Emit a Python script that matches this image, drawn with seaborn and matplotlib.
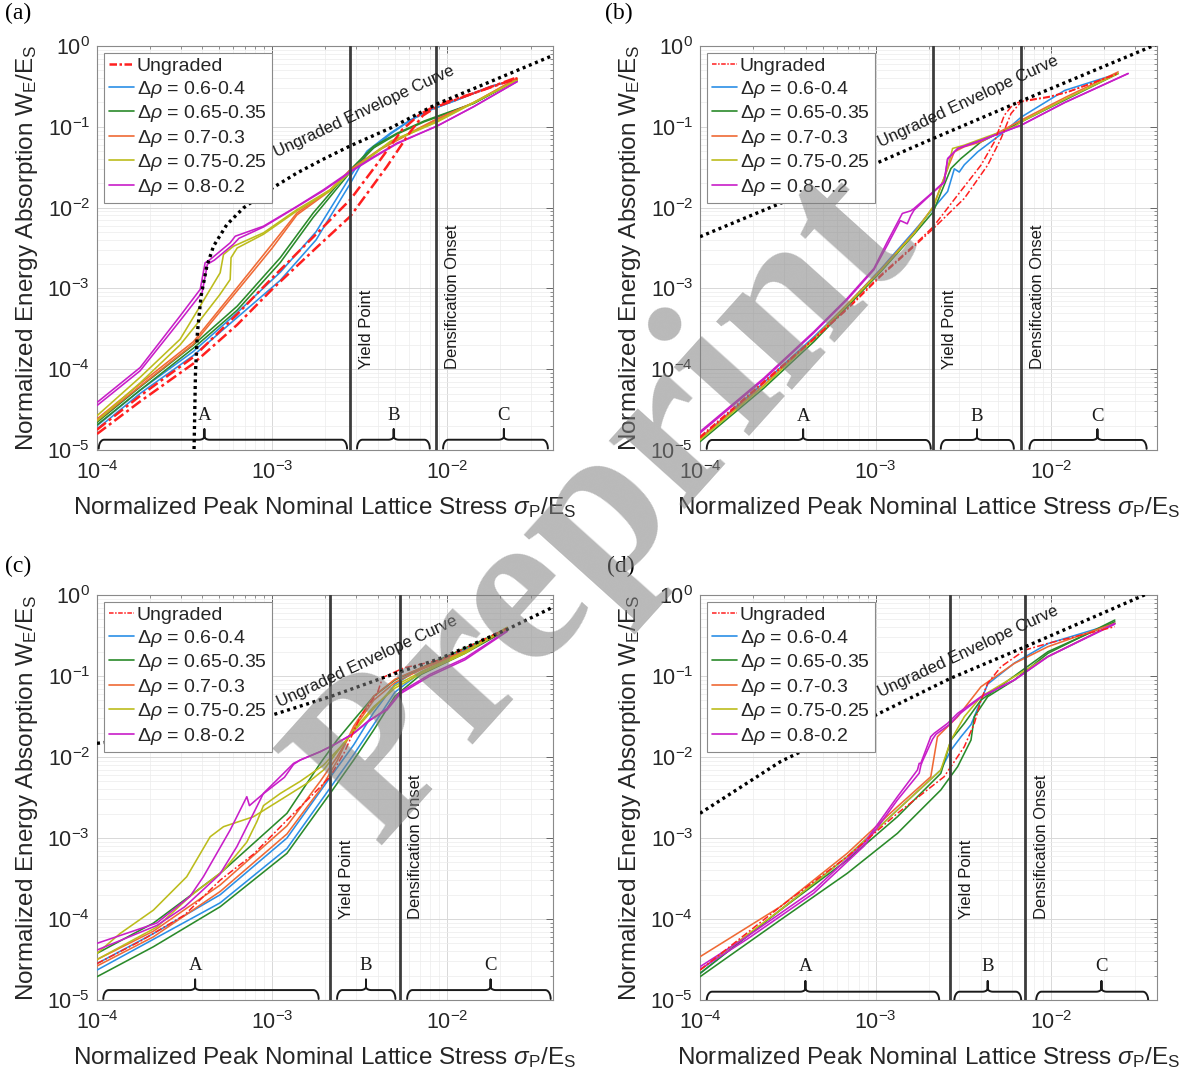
import numpy as np
import pandas as pd
import matplotlib
matplotlib.use("Agg")
import matplotlib.pyplot as plt
import seaborn as sns
from matplotlib.lines import Line2D
from matplotlib.ticker import LogLocator, NullFormatter

# ---------------------------------------------------------------- data
# every curve is stored as (log10 x, log10 y) pairs
SERIES = ["Ungraded", "0.6-0.4", "0.65-0.35", "0.7-0.3", "0.75-0.25", "0.8-0.2"]
COLORS = ["#ff1f1f", "#2b8fe6", "#2a8a2a", "#ef6a35", "#bcbc1c", "#c81ec8"]

# ---- panel (a)
A_UNG = [([-4.0, -3.754, -3.45, -3.2, -3.0, -2.75, -2.554, -2.383, -2.259, -2.16, -2.059, -1.85, -1.602],
          [-4.749, -4.33, -3.85, -3.32, -2.87, -2.33, -1.90, -1.407, -1.037, -0.85, -0.728, -0.584, -0.387]),
         ([-4.0, -3.754, -3.45, -3.2, -3.0, -2.75, -2.554, -2.345, -2.211, -2.14, -2.059, -1.85, -1.602],
          [-4.802, -4.40, -3.93, -3.45, -3.01, -2.50, -2.107, -1.49, -1.058, -0.86, -0.749, -0.584, -0.399])]
A_BLUE = [([-4.0, -3.754, -3.45, -3.2, -2.954, -2.75, -2.554, -2.459, -2.326, -2.211, -2.097, -1.945, -1.754, -1.621],
           [-4.70, -4.26, -3.78, -3.30, -2.80, -2.30, -1.613, -1.30, -1.078, -0.914, -0.79, -0.667, -0.502, -0.42]),
          ([-4.0, -3.754, -3.45, -3.2, -2.954, -2.75, -2.554, -2.459, -2.326, -2.211, -2.097, -1.945, -1.754, -1.621],
           [-4.74, -4.30, -3.83, -3.36, -2.90, -2.40, -1.70, -1.33, -1.09, -0.92, -0.79, -0.667, -0.50, -0.42])]
A_GREEN = [([-4.0, -3.754, -3.45, -3.2, -2.954, -2.766, -2.554, -2.421, -2.288, -2.135, -2.059, -1.85, -1.602],
            [-4.658, -4.22, -3.70, -3.22, -2.62, -2.066, -1.53, -1.24, -1.08, -0.93, -0.87, -0.708, -0.42]),
           ([-4.0, -3.754, -3.45, -3.2, -2.954, -2.766, -2.554, -2.421, -2.288, -2.135, -2.059, -1.85, -1.602],
            [-4.69, -4.26, -3.74, -3.27, -2.68, -2.12, -1.56, -1.26, -1.09, -0.94, -0.88, -0.71, -0.42])]
A_ORANGE = [([-4.0, -3.754, -3.45, -3.2, -3.0, -2.859, -2.669, -2.554, -2.383, -2.211, -2.059, -1.85, -1.602],
             [-4.617, -4.18, -3.66, -2.99, -2.45, -2.066, -1.778, -1.53, -1.27, -1.07, -0.90, -0.70, -0.40]),
            ([-4.0, -3.754, -3.45, -3.2, -3.0, -2.859, -2.669, -2.554, -2.383, -2.211, -2.059, -1.85, -1.602],
             [-4.64, -4.21, -3.69, -3.03, -2.50, -2.09, -1.79, -1.54, -1.28, -1.08, -0.91, -0.70, -0.40])]
A_YELLOW = [([-4.0, -3.754, -3.526, -3.411, -3.297, -3.278, -3.221, -3.05, -2.859, -2.669, -2.554, -2.326, -2.059, -1.602],
             [-4.576, -4.10, -3.63, -3.218, -2.806, -2.58, -2.478, -2.312, -2.025, -1.778, -1.55, -1.18, -0.93, -0.42]),
            ([-4.0, -3.754, -3.526, -3.4, -3.3, -3.24, -3.235, -3.2, -3.05, -2.859, -2.669, -2.554, -2.326, -2.059, -1.602],
             [-4.638, -4.17, -3.70, -3.36, -3.08, -2.89, -2.62, -2.50, -2.33, -2.04, -1.79, -1.56, -1.19, -0.94, -0.42])]
A_PURPLE = [([-4.0, -3.754, -3.526, -3.411, -3.383, -3.354, -3.24, -3.211, -3.05, -2.859, -2.707, -2.554, -2.421, -2.288, -2.154, -2.059, -1.85, -1.602],
             [-4.412, -3.98, -3.342, -3.012, -2.683, -2.642, -2.436, -2.354, -2.23, -1.984, -1.778, -1.55, -1.37, -1.201, -1.078, -0.99, -0.75, -0.44]),
            ([-4.0, -3.754, -3.526, -3.40, -3.37, -3.33, -3.22, -3.19, -3.05, -2.859, -2.707, -2.554, -2.421, -2.288, -2.154, -2.059, -1.85, -1.602],
             [-4.45, -4.02, -3.40, -3.05, -2.70, -2.65, -2.45, -2.38, -2.24, -1.99, -1.79, -1.56, -1.38, -1.21, -1.08, -0.99, -0.75, -0.44])]
A_ENV = ([-3.446, -3.438, -3.427, -3.406, -3.373, -3.335, -3.259, -3.164, -3.030, -2.859, -2.707, -2.554, -2.326, -2.059, -1.754, -1.392],
         [-4.988, -4.041, -3.547, -3.095, -2.724, -2.477, -2.21, -2.004, -1.798, -1.572, -1.399, -1.235, -1.016, -0.716, -0.44, -0.111])
A_VLINES = [2.79e-3, 8.6e-3]

# ---- panel (b)
B_UNG = [([-4.0, -3.638, -3.352, -3.162, -2.971, -2.781, -2.672, -2.533, -2.4, -2.324, -2.267, -2.221, -2.171, -2.019, -1.905, -1.619],
          [-4.835, -4.155, -3.619, -3.247, -2.835, -2.464, -2.237, -1.845, -1.474, -1.186, -0.856, -0.732, -0.682, -0.629, -0.567, -0.34]),
         ([-4.0, -3.638, -3.352, -3.162, -2.971, -2.781, -2.672, -2.495, -2.362, -2.286, -2.229, -2.171, -2.019, -1.905, -1.619],
          [-4.85, -4.17, -3.63, -3.26, -2.85, -2.48, -2.26, -1.886, -1.474, -1.144, -0.835, -0.69, -0.635, -0.57, -0.34])]
B_BLUE = [([-4.0, -3.638, -3.352, -3.162, -2.971, -2.781, -2.672, -2.59, -2.552, -2.524, -2.495, -2.419, -2.267, -2.171, -1.924, -1.619],
           [-4.856, -4.17, -3.60, -3.20, -2.76, -2.29, -2.01, -1.80, -1.52, -1.56, -1.47, -1.31, -1.06, -0.88, -0.55, -0.34])]
B_GREEN = [([-4.0, -3.638, -3.352, -2.971, -2.781, -2.672, -2.61, -2.571, -2.514, -2.4, -2.171, -1.924, -1.619],
            [-4.897, -4.237, -3.66, -2.794, -2.33, -2.052, -1.722, -1.515, -1.392, -1.186, -0.938, -0.67, -0.34])]
B_ORANGE = [([-4.0, -3.638, -3.352, -2.971, -2.781, -2.672, -2.59, -2.552, -2.495, -2.4, -2.171, -1.924, -1.619],
             [-4.856, -4.20, -3.62, -2.77, -2.31, -1.99, -1.515, -1.309, -1.247, -1.186, -0.918, -0.64, -0.32])]
B_YELLOW = [([-4.0, -3.638, -3.352, -2.971, -2.781, -2.672, -2.59, -2.562, -2.495, -2.21, -2.171, -1.924, -1.619],
             [-4.876, -4.21, -3.63, -2.78, -2.32, -1.99, -1.515, -1.268, -1.227, -1.0, -0.938, -0.66, -0.34])]
B_PURPLE = [([-4.0, -3.638, -3.352, -3.162, -3.01, -2.933, -2.848, -2.80, -2.781, -2.672, -2.61, -2.59, -2.533, -2.4, -2.171, -1.924, -1.562],
             [-4.773, -4.113, -3.536, -3.124, -2.753, -2.42, -2.072, -2.04, -2.01, -1.804, -1.68, -1.392, -1.268, -1.165, -0.979, -0.70, -0.34]),
            ([-4.0, -3.638, -3.352, -3.162, -3.01, -2.93, -2.86, -2.82, -2.80, -2.781, -2.672, -2.61, -2.59, -2.533, -2.4, -2.171, -1.924, -1.562],
             [-4.79, -4.13, -3.55, -3.14, -2.77, -2.45, -2.16, -2.20, -2.10, -2.03, -1.81, -1.69, -1.40, -1.27, -1.17, -0.98, -0.70, -0.34])]
B_ENV = ([-4.0, -3.048, -2.672, -2.171, -1.39], [-2.36, -1.50, -1.144, -0.68, 0.03])
B_VLINES = [2.13e-3, 6.75e-3]

# ---- panel (c)
C_UNG = [([-4.0, -3.75, -3.5, -3.297, -3.107, -2.916, -2.726, -2.669, -2.59, -2.497, -2.40, -2.37, -2.25, -2.04, -1.659],
          [-4.55, -4.27, -3.95, -3.52, -3.20, -2.78, -2.37, -2.24, -1.95, -1.50, -1.21, -1.02, -0.90, -0.80, -0.41])]
C_BLUE = [([-4.0, -3.678, -3.297, -2.916, -2.669, -2.535, -2.421, -2.3, -2.15, -1.9, -1.659],
           [-4.63, -4.25, -3.80, -3.13, -2.38, -1.97, -1.60, -1.20, -0.95, -0.70, -0.42]),
          ([-4.0, -3.678, -3.297, -2.916, -2.669, -2.535, -2.421, -2.3, -2.15, -1.9, -1.659],
           [-4.55, -4.18, -3.70, -3.00, -2.25, -1.85, -1.45, -1.10, -0.90, -0.68, -0.41])]
C_GREEN = [([-4.0, -3.678, -3.297, -2.916, -2.669, -2.535, -2.421, -2.3, -2.15, -1.9, -1.659],
            [-4.712, -4.342, -3.848, -3.189, -2.448, -2.037, -1.667, -1.25, -0.98, -0.72, -0.43]),
           ([-4.0, -3.678, -3.297, -2.916, -2.726, -2.63, -2.535, -2.42, -2.3, -2.1, -1.659],
            [-4.424, -4.05, -3.436, -2.695, -2.078, -1.79, -1.543, -1.25, -1.05, -0.85, -0.42])]
C_ORANGE = [([-4.0, -3.678, -3.297, -2.916, -2.726, -2.63, -2.535, -2.421, -2.3, -2.15, -1.9, -1.659],
             [-4.50, -4.15, -3.58, -2.85, -2.30, -2.0, -1.65, -1.30, -1.08, -0.92, -0.70, -0.42]),
            ([-4.0, -3.678, -3.297, -2.916, -2.726, -2.63, -2.535, -2.421, -2.3, -2.15, -1.9, -1.659],
             [-4.58, -4.22, -3.66, -2.95, -2.40, -2.05, -1.62, -1.25, -1.04, -0.90, -0.69, -0.42])]
C_YELLOW = [([-4.0, -3.869, -3.678, -3.488, -3.354, -3.278, -3.107, -2.954, -2.802, -2.707, -2.65, -2.535, -2.421, -2.3, -2.15, -1.9, -1.659],
             [-4.424, -4.18, -3.89, -3.478, -2.984, -2.86, -2.737, -2.531, -2.325, -2.16, -1.996, -1.667, -1.379, -1.15, -0.97, -0.72, -0.40]),
            ([-4.0, -3.659, -3.469, -3.278, -3.145, -3.088, -3.05, -2.954, -2.84, -2.707, -2.6, -2.5, -2.4, -2.3, -2.15, -1.9, -1.659],
             [-4.50, -4.10, -3.72, -3.40, -3.05, -2.80, -2.60, -2.45, -2.30, -2.10, -1.85, -1.60, -1.35, -1.12, -0.95, -0.70, -0.40])]
C_PURPLE = [([-4.0, -3.659, -3.469, -3.393, -3.24, -3.145, -3.13, -3.06, -2.93, -2.878, -2.84, -2.726, -2.65, -2.535, -2.45, -2.345, -2.27, -2.1, -1.9, -1.659],
             [-4.30, -4.05, -3.72, -3.478, -2.901, -2.49, -2.60, -2.47, -2.25, -2.09, -2.037, -1.934, -1.852, -1.708, -1.55, -1.42, -1.22, -1.0, -0.80, -0.45]),
            ([-4.0, -3.659, -3.5, -3.30, -3.202, -3.126, -3.05, -2.935, -2.878, -2.84, -2.726, -2.65, -2.535, -2.45, -2.345, -2.27, -2.1, -1.9, -1.659],
             [-4.383, -4.08, -3.85, -3.45, -3.107, -2.778, -2.448, -2.201, -2.078, -2.037, -1.934, -1.852, -1.708, -1.56, -1.40, -1.20, -0.98, -0.78, -0.44])]
C_ENV = ([-4.0, -3.659, -3.278, -3.03, -2.669, -2.326, -2.04, -1.659, -1.392],
         [-1.831, -1.749, -1.626, -1.502, -1.255, -0.99, -0.782, -0.424, -0.144])
C_VLINES = [2.14e-3, 5.35e-3]

# ---- panel (d)
D_UNG = [([-4.0, -3.543, -3.162, -2.876, -2.61, -2.495, -2.438, -2.4, -2.362, -2.286, -2.15, -2.019, -1.638],
          [-4.63, -3.848, -3.23, -2.695, -2.243, -1.872, -1.585, -1.296, -1.09, -0.885, -0.68, -0.597, -0.391])]
D_BLUE = [([-4.0, -3.543, -3.162, -2.876, -2.629, -2.571, -2.514, -2.457, -2.4, -2.362, -2.21, -2.019, -1.638],
           [-4.671, -3.889, -3.23, -2.654, -2.16, -1.914, -1.75, -1.60, -1.30, -1.10, -0.84, -0.60, -0.35])]
D_GREEN = [([-4.0, -3.543, -3.162, -2.876, -2.629, -2.533, -2.457, -2.438, -2.362, -2.21, -2.019, -1.638],
            [-4.712, -4.012, -3.436, -2.942, -2.407, -2.119, -1.79, -1.502, -1.255, -1.049, -0.72, -0.309]),
           ([-4.0, -3.543, -3.162, -2.876, -2.629, -2.571, -2.495, -2.4, -2.21, -2.019, -1.638],
            [-4.671, -3.889, -3.272, -2.737, -2.202, -1.790, -1.584, -1.296, -1.0, -0.70, -0.33])]
D_ORANGE = [([-4.0, -3.543, -3.162, -2.876, -2.686, -2.648, -2.61, -2.533, -2.4, -2.21, -2.019, -1.638],
             [-4.465, -3.848, -3.189, -2.613, -2.243, -1.749, -1.667, -1.502, -1.132, -0.844, -0.638, -0.35])]
D_YELLOW = [([-4.0, -3.543, -3.162, -2.876, -2.629, -2.571, -2.495, -2.4, -2.21, -2.019, -1.638],
             [-4.63, -3.889, -3.230, -2.654, -2.16, -1.79, -1.502, -1.255, -1.008, -0.761, -0.35])]
D_PURPLE = [([-4.0, -3.733, -3.352, -3.067, -2.876, -2.762, -2.752, -2.743, -2.686, -2.667, -2.59, -2.533, -2.4, -2.21, -2.019, -1.638],
             [-4.588, -4.218, -3.642, -3.066, -2.49, -2.16, -2.078, -2.078, -1.749, -1.708, -1.584, -1.461, -1.255, -1.049, -0.761, -0.35]),
            ([-4.0, -3.733, -3.352, -3.067, -2.876, -2.752, -2.742, -2.733, -2.676, -2.657, -2.58, -2.523, -2.4, -2.21, -2.019, -1.638],
             [-4.62, -4.25, -3.68, -3.10, -2.53, -2.20, -2.10, -2.05, -1.78, -1.72, -1.60, -1.47, -1.26, -1.05, -0.76, -0.36])]
D_ENV = ([-4.0, -3.543, -3.038, -2.575, -2.147, -1.457], [-2.695, -2.058, -1.523, -1.03, -0.638, 0.012])
D_VLINES = [2.66e-3, 7.1e-3]

# brace annotations: (log x start, log x end, log x centre) for A, B, C, and log y of brace / letter
A_BRACES = [(-3.99, -2.573, -3.387), (-2.516, -2.101, -2.307), (-2.025, -1.427, -1.678)]
B_BRACES = [(-3.962, -2.686, -3.413), (-2.629, -2.213, -2.423), (-2.124, -1.457, -1.737)]
C_BRACES = [(-3.964, -2.735, -3.44), (-2.63, -2.297, -2.465), (-2.23, -1.411, -1.754)]
D_BRACES = [(-3.962, -2.638, -3.40), (-2.552, -2.171, -2.362), (-2.086, -1.448, -1.714)]
BRACE_Y = [-4.873, -4.876, -4.877, -4.897]
LETTER_Y = [-4.576, -4.588, -4.568, -4.588]
ENV_TEXT_XY = [(-2.478, -0.81), (-2.476, -0.69), (-2.459, -0.823), (-2.476, -0.70)]

PANELS = [
    ("(a)", [A_UNG, A_BLUE, A_GREEN, A_ORANGE, A_YELLOW, A_PURPLE], A_ENV, A_VLINES, A_BRACES),
    ("(b)", [B_UNG, B_BLUE, B_GREEN, B_ORANGE, B_YELLOW, B_PURPLE], B_ENV, B_VLINES, B_BRACES),
    ("(c)", [C_UNG, C_BLUE, C_GREEN, C_ORANGE, C_YELLOW, C_PURPLE], C_ENV, C_VLINES, C_BRACES),
    ("(d)", [D_UNG, D_BLUE, D_GREEN, D_ORANGE, D_YELLOW, D_PURPLE], D_ENV, D_VLINES, D_BRACES),
]
AX_RECTS = [[0.0813, 0.5845, 0.3822, 0.3730],
            [0.5868, 0.5845, 0.3830, 0.3730],
            [0.0813, 0.0766, 0.3822, 0.3740],
            [0.5868, 0.0766, 0.3830, 0.3740]]
LABEL_POS = [(0.004, 0.997), (0.507, 0.997), (0.004, 0.487), (0.509, 0.487)]

# ---------------------------------------------------------------- style
sns.set_theme(style="white")
plt.rcParams["font.family"] = ["Liberation Sans", "DejaVu Sans"]
plt.rcParams["mathtext.fontset"] = "custom"
plt.rcParams["mathtext.rm"] = "Liberation Sans"
plt.rcParams["mathtext.it"] = "Liberation Sans:italic"
plt.rcParams["mathtext.bf"] = "Liberation Sans:bold"

LEG_LABELS = ["Ungraded"] + [r"$\Delta\rho$ = " + s for s in SERIES[1:]]


def to_frame(groups):
    rows = []
    for name, curves in zip(SERIES, groups):
        for ci, (lx, ly) in enumerate(curves):
            for k, (a, b) in enumerate(zip(lx, ly)):
                rows.append((name, f"{name}#{ci}", k, 10.0 ** a, 10.0 ** b))
    return pd.DataFrame(rows, columns=["series", "curve", "k", "x", "y"])


def brace(ax, x0, x1, xc, yb):
    ex, hy, hc, ty = 0.03, 0.11, 0.04, 0.13
    t = np.linspace(0, np.pi / 2, 10)
    xs, ys = [], []
    xs += list(x0 + ex - ex * np.cos(t)); ys += list(yb - hy + hy * np.sin(t))
    xs += list(xc - ex + ex * np.sin(t)); ys += list(yb + hc - hc * np.cos(t))
    xs += [xc, xc]; ys += [yb + ty, yb + hc]
    xs += list(xc + ex - ex * np.cos(t)); ys += list(yb + hc - hc * np.sin(t))
    xs += list(x1 - ex + ex * np.sin(t)); ys += list(yb - hy + hy * np.cos(t))
    ax.plot(10.0 ** np.array(xs), 10.0 ** np.array(ys), color="#1a1a1a", lw=1.4, zorder=4)


fig = plt.figure(figsize=(11.93, 10.83), dpi=100)

for i, (plabel, groups, env, vlines, braces) in enumerate(PANELS):
    ax = fig.add_axes(AX_RECTS[i])
    ax.set_xscale("log")
    ax.set_yscale("log")
    ax.set_xlim(1e-4, 4e-2)
    ax.set_ylim(1e-5, 1)

    df = to_frame(groups)
    graded = df[df.series != "Ungraded"]
    sns.lineplot(data=graded, x="x", y="y", hue="series", units="curve",
                 estimator=None, sort=False, hue_order=SERIES[1:],
                 palette=COLORS[1:], lw=1.15, legend=False, ax=ax, zorder=3)
    ung = df[df.series == "Ungraded"]
    sns.lineplot(data=ung, x="x", y="y", units="curve", estimator=None, sort=False,
                 color=COLORS[0], lw=1.8 if i == 0 else 1.1, ax=ax, zorder=3.5,
                 legend=False, linestyle=(0, (4.5, 1.5, 1.2, 1.5)))

    ax.plot(10.0 ** np.array(env[0]), 10.0 ** np.array(env[1]), color="black",
            lw=2.4, linestyle=(0, (0.9, 1.1)), zorder=5)
    for xv in vlines:
        ax.axvline(xv, color="#3c3c3c", lw=2.0, zorder=4)

    ax.text(vlines[0] * 1.12, 1.0e-4, "Yield Point", rotation=90, ha="left",
            va="bottom", fontsize=12, color="#1a1a1a", zorder=6)
    ax.text(vlines[1] * 1.12, 1.0e-4, "Densification Onset", rotation=90, ha="left",
            va="bottom", fontsize=12, color="#1a1a1a", zorder=6)
    ex_, ey_ = ENV_TEXT_XY[i]
    ax.text(10 ** ex_, 10 ** ey_, "Ungraded Envelope Curve", rotation=25,
            rotation_mode="anchor", ha="center", va="center", fontsize=12,
            color="#1a1a1a", zorder=6)

    for (x0, x1, xc), letter in zip(braces, "ABC"):
        brace(ax, x0, x1, xc, BRACE_Y[i])
        ax.text(10 ** xc, 10 ** LETTER_Y[i], letter, ha="center", va="center",
                fontsize=13.5, family="Liberation Serif", color="#1a1a1a", zorder=6)

    # axes cosmetics (MATLAB look)
    ax.xaxis.set_major_locator(LogLocator(base=10, numticks=10))
    ax.yaxis.set_major_locator(LogLocator(base=10, numticks=10))
    ax.xaxis.set_minor_locator(LogLocator(base=10, subs=np.arange(2, 10), numticks=20))
    ax.yaxis.set_minor_locator(LogLocator(base=10, subs=np.arange(2, 10), numticks=20))
    ax.xaxis.set_minor_formatter(NullFormatter())
    ax.yaxis.set_minor_formatter(NullFormatter())
    ax.grid(True, which="major", color="#d8d8d8", lw=0.7)
    ax.grid(True, which="minor", color="#ececec", lw=0.5)
    ax.set_axisbelow(True)
    ax.tick_params(which="both", direction="in", top=True, right=True, color="#666666")
    ax.tick_params(which="major", length=5, width=0.7, labelsize=15.5, labelcolor="#262626")
    ax.tick_params(axis="x", which="major", pad=8)
    ax.tick_params(axis="y", which="major", pad=5)
    ax.tick_params(which="minor", length=2.5, width=0.5)
    for sp in ax.spines.values():
        sp.set_color("#8a8a8a")
        sp.set_linewidth(0.8)
    ax.set_xlabel(r"Normalized Peak Nominal Lattice Stress $\sigma_{\mathrm{P}}$/E$_{\mathrm{S}}$",
                  fontsize=17.5, color="#262626", labelpad=8)
    ax.set_ylabel(r"Normalized Energy Absorption W$_{\mathrm{E}}$/E$_{\mathrm{S}}$",
                  fontsize=17.5, color="#262626", labelpad=5)

    handles = [Line2D([], [], color=COLORS[0], lw=1.8 if i == 0 else 1.1,
                      linestyle=(0, (3, 1, 1, 1)))]
    handles += [Line2D([], [], color=c, lw=1.2) for c in COLORS[1:]]
    leg = ax.legend(handles, LEG_LABELS, loc="upper left", fontsize=14, frameon=True,
                    fancybox=False, edgecolor="#8a8a8a", framealpha=1.0,
                    handlelength=1.3, handletextpad=0.15, labelspacing=0.18,
                    borderpad=0.25, borderaxespad=0.35)
    leg.get_frame().set_linewidth(0.8)
    leg.set_zorder(7)

    fig.text(LABEL_POS[i][0], LABEL_POS[i][1], plabel, ha="left", va="top",
             fontsize=17, family="Liberation Serif", color="black")

# watermark
fig.text(0.51, 0.53, "Preprint", rotation=48, fontsize=160, family="Liberation Serif",
         fontweight="bold", color="#808080", alpha=0.55, ha="center", va="center", zorder=20)

fig.savefig("out.png", dpi=100)
